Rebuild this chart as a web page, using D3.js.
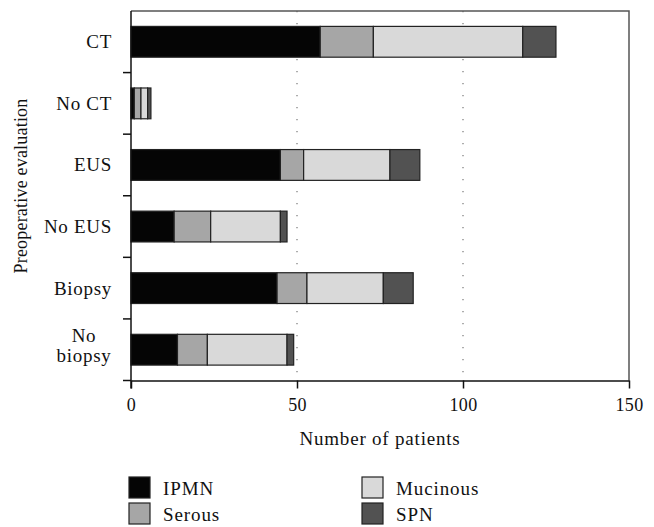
<!DOCTYPE html>
<html>
<head>
<meta charset="utf-8">
<script src="https://cdn.jsdelivr.net/npm/d3@7"></script>
<style>
  body { margin: 0; background: #fff; }
  svg text { font-family: "Liberation Serif", "DejaVu Serif", serif; fill: #111; }
</style>
</head>
<body>
<svg id="chart" width="654" height="527"></svg>
<script>
// Preoperative evaluation groups (top to bottom)
const categories = ["CT", "No CT", "EUS", "No EUS", "Biopsy", "No biopsy"];
// Patients per lesion type in each group
const ipmn     = [57, 1, 45, 13, 44, 14];
const serous   = [16, 2, 7, 11, 9, 9];
const mucinous = [45, 2, 26, 21, 23, 24];
const spn      = [10, 1, 9, 2, 9, 2];
const seriesNames = ["IPMN", "Serous", "Mucinous", "SPN"];
const xTicks = [0, 50, 100, 150];

const colors = { IPMN: "#050505", Serous: "#a6a6a6", Mucinous: "#d9d9d9", SPN: "#525252" };

const rows = categories.map((c, i) => ({
  cat: c, IPMN: ipmn[i], Serous: serous[i], Mucinous: mucinous[i], SPN: spn[i]
}));

const svg = d3.select("#chart");
const m = { left: 131, right: 629, top: 11, bottom: 380.5 };

const x = d3.scaleLinear().domain([0, 150]).range([m.left, m.right]);
const y = d3.scaleBand().domain(categories).range([m.top, m.bottom]).paddingInner(0.5).paddingOuter(0.25);
const yBand = d3.scaleBand().domain(categories).range([m.top, m.bottom]);

// Dotted reference lines
svg.append("g").selectAll("line").data([50, 100]).join("line")
  .attr("x1", d => x(d)).attr("x2", d => x(d))
  .attr("y1", m.top).attr("y2", m.bottom)
  .attr("stroke", "#777").attr("stroke-width", 1.2)
  .attr("stroke-dasharray", "1.2,10.8");

// Frame (top and right edges)
svg.append("path")
  .attr("d", `M${m.left},${m.top}H${m.right}V${m.bottom}`)
  .attr("fill", "none").attr("stroke", "#555").attr("stroke-width", 1.5);

// Stacked bars
const stack = d3.stack().keys(seriesNames)(rows);
svg.append("g").selectAll("g").data(stack).join("g")
  .attr("fill", d => colors[d.key])
  .selectAll("rect").data(d => d).join("rect")
  .attr("x", d => x(d[0]))
  .attr("width", d => x(d[1]) - x(d[0]))
  .attr("y", d => y(d.data.cat))
  .attr("height", y.bandwidth())
  .attr("stroke", "#222").attr("stroke-width", 1.2);

// X axis
const xAxis = svg.append("g").attr("transform", `translate(0,${m.bottom})`)
  .call(d3.axisBottom(x).tickValues(xTicks).tickSize(8).tickSizeOuter(0).tickPadding(10));
xAxis.select(".domain").attr("stroke", "#111").attr("stroke-width", 1.5);
xAxis.selectAll(".tick line").attr("stroke", "#111").attr("stroke-width", 1.5);
xAxis.selectAll(".tick text").attr("font-size", 18).style("font-family", "Liberation Serif")
  .attr("fill", "#111").style("letter-spacing", "0.3px");

// Y axis line and ticks at group boundaries
svg.append("line").attr("x1", m.left).attr("x2", m.left)
  .attr("y1", m.top).attr("y2", m.bottom + 8)
  .attr("stroke", "#111").attr("stroke-width", 1.5);
const boundaries = categories.map(c => yBand(c) + yBand.bandwidth());
svg.append("g").selectAll("line").data(boundaries).join("line")
  .attr("x1", m.left - 8).attr("x2", m.left)
  .attr("y1", d => d).attr("y2", d => d)
  .attr("stroke", "#111").attr("stroke-width", 1.5);

// Category labels
const labelG = svg.append("g").style("letter-spacing", "0.7px");
categories.forEach(c => {
  const cy = yBand(c) + yBand.bandwidth() / 2;
  if (c === "No biopsy") {
    const t = labelG.append("text").attr("text-anchor", "middle").attr("font-size", 19);
    t.append("tspan").attr("x", 84).attr("y", cy - 8).text("No");
    t.append("tspan").attr("x", 84).attr("y", cy + 12).text("biopsy");
  } else {
    labelG.append("text").attr("x", 112).attr("y", cy + 6.5)
      .attr("text-anchor", "end").attr("font-size", 19).text(c);
  }
});

// Axis titles
svg.append("text").attr("x", (m.left + m.right) / 2).attr("y", 445)
  .attr("text-anchor", "middle").attr("font-size", 19).style("letter-spacing", "0.8px")
  .text("Number of patients");
svg.append("text").attr("transform", `translate(27,186) rotate(-90)`)
  .attr("text-anchor", "middle").attr("font-size", 18).style("letter-spacing", "0.2px")
  .text("Preoperative evaluation");

// Legend
const legendPos = [
  { key: "IPMN", x: 129, y: 477 },
  { key: "Serous", x: 129, y: 503 },
  { key: "Mucinous", x: 362, y: 477 },
  { key: "SPN", x: 362, y: 503 }
];
const lg = svg.append("g").selectAll("g").data(legendPos).join("g")
  .attr("transform", d => `translate(${d.x},${d.y})`);
lg.append("rect").attr("width", 21).attr("height", 21)
  .attr("fill", d => colors[d.key]).attr("stroke", "#222").attr("stroke-width", 1.2);
lg.append("text").attr("x", 34).attr("y", 18).attr("font-size", 19)
  .style("letter-spacing", "0.9px").text(d => d.key);
</script>
</body>
</html>
